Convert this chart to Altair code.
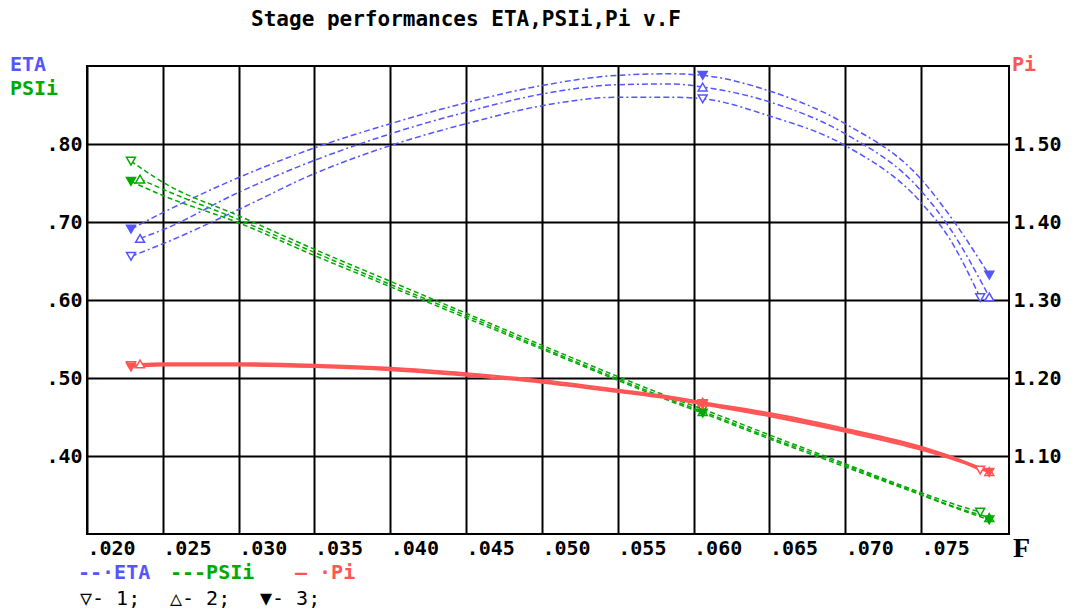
import altair as alt
import pandas as pd

# ---- data ----
F_1 = [0.0229, 0.025, 0.030, 0.035, 0.040, 0.045, 0.050, 0.055, 0.0585, 0.0606, 0.065, 0.070, 0.075, 0.0769, 0.0789]
F_2 = [0.0235, 0.025, 0.030, 0.035, 0.040, 0.045, 0.050, 0.055, 0.0585, 0.0606, 0.065, 0.070, 0.075, 0.0769, 0.0795]
F_3 = [0.0229, 0.025, 0.030, 0.035, 0.040, 0.045, 0.050, 0.055, 0.0585, 0.0606, 0.065, 0.070, 0.075, 0.0769, 0.0795]

ETA_1 = [0.656, 0.672, 0.716, 0.762, 0.798, 0.826, 0.849, 0.860, 0.860, 0.858, 0.836, 0.798, 0.725, 0.678, 0.603]
ETA_2 = [0.679, 0.690, 0.738, 0.779, 0.813, 0.841, 0.864, 0.876, 0.877, 0.873, 0.854, 0.813, 0.740, 0.692, 0.604]
ETA_3 = [0.691, 0.712, 0.757, 0.795, 0.826, 0.853, 0.875, 0.888, 0.890, 0.888, 0.868, 0.826, 0.755, 0.708, 0.632]

PSI_1 = [0.778, 0.751, 0.708, 0.665, 0.624, 0.583, 0.542, 0.502, 0.475, 0.460, 0.427, 0.390, 0.353, 0.340, 0.328]
PSI_2 = [0.755, 0.742, 0.703, 0.661, 0.620, 0.580, 0.539, 0.499, 0.472, 0.457, 0.424, 0.388, 0.351, 0.337, 0.321]
PSI_3 = [0.752, 0.734, 0.699, 0.657, 0.617, 0.577, 0.537, 0.497, 0.470, 0.455, 0.422, 0.386, 0.350, 0.336, 0.318]

PI_1 = [1.216, 1.217, 1.217, 1.215, 1.211, 1.204, 1.195, 1.183, 1.174, 1.167, 1.153, 1.133, 1.110, 1.099, 1.082]
PI_2 = [1.218, 1.219, 1.219, 1.217, 1.213, 1.206, 1.197, 1.185, 1.176, 1.169, 1.155, 1.135, 1.112, 1.100, 1.080]
PI_3 = [1.214, 1.216, 1.216, 1.214, 1.210, 1.203, 1.194, 1.182, 1.173, 1.166, 1.151, 1.131, 1.108, 1.097, 1.079]

MARKER_IDX = [0, 9, 14]
SERIES = ["1", "2", "3"]
X_TICKS = [0.020, 0.025, 0.030, 0.035, 0.040, 0.045, 0.050, 0.055, 0.060, 0.065, 0.070, 0.075]
Y_LEFT_TICKS = [0.40, 0.50, 0.60, 0.70, 0.80]
Y_RIGHT_TICKS = [1.10, 1.20, 1.30, 1.40, 1.50]

BLUE, GREEN, RED = "#5555FF", "#00AA00", "#FF5555"
MONO = "DejaVu Sans Mono"

F_ALL = {"1": F_1, "2": F_2, "3": F_3}
VARS = {
    "ETA": {"1": ETA_1, "2": ETA_2, "3": ETA_3},
    "PSIi": {"1": PSI_1, "2": PSI_2, "3": PSI_3},
    "Pi": {"1": PI_1, "2": PI_2, "3": PI_3},
}
COLORS = {"ETA": BLUE, "PSIi": GREEN, "Pi": RED}
SHAPES = {"1": "triangle-down", "2": "triangle-up", "3": "triangle-down"}

rows = []
for var, d in VARS.items():
    for s in SERIES:
        for i, (f, v) in enumerate(zip(F_ALL[s], d[s])):
            rows.append({
                "F": f, "v": v, "var": var, "series": s, "key": var + s,
                "marker": i in MARKER_IDX, "col": COLORS[var],
                "fill": COLORS[var] if s == "3" else "white",
                "shape": SHAPES[s],
            })
df = pd.DataFrame(rows)

xscale = alt.Scale(domain=[0.020, 0.0808], nice=False, zero=False)
yl = alt.Scale(domain=[0.30, 0.90], nice=False, zero=False)
yr = alt.Scale(domain=[1.00, 1.60], nice=False, zero=False)

x_axis = alt.Axis(values=X_TICKS, labelExpr="substring(format(datum.value, '.3f'), 1)",
                  labelAlign="left", labelBaseline="top", labelPadding=4, grid=True,
                  gridColor="black", gridWidth=2, gridOpacity=1, ticks=False, domain=False,
                  labelFont=MONO, labelFontWeight="bold", labelFontSize=20, labelColor="black",
                  labelFlush=False, labelOverlap=False, title=None)
yl_axis = alt.Axis(values=Y_LEFT_TICKS, labelExpr="substring(format(datum.value, '.2f'), 1)",
                   grid=True, gridColor="black", gridWidth=2, gridOpacity=1, ticks=False,
                   domain=False, labelFont=MONO, labelFontWeight="bold", labelFontSize=20,
                   labelColor="black", labelPadding=5, labelFlush=False, title=None)
yr_axis = alt.Axis(values=Y_RIGHT_TICKS, format=".2f", orient="right", grid=False,
                   ticks=False, domain=False, labelFont=MONO, labelFontWeight="bold",
                   labelFontSize=20, labelColor="black", labelPadding=4, labelFlush=False,
                   title=None)

X = alt.X("F:Q", scale=xscale, axis=x_axis)
YL = alt.Y("v:Q", scale=yl, axis=yl_axis)
YR = alt.Y("v:Q", scale=yr, axis=yr_axis)

eta_df = df[df["var"] == "ETA"]
psi_df = df[df["var"] == "PSIi"]
pi_df = df[df["var"] == "Pi"]
left_df = df[df["var"] != "Pi"]

eta_lines = alt.Chart(eta_df).mark_line(strokeWidth=1.5, strokeDash=[6, 3, 6, 3, 2, 3],
                                        color=BLUE, interpolate="monotone").encode(
    x=X, y=YL, detail="key:N", order="F:Q")
psi_lines = alt.Chart(psi_df).mark_line(strokeWidth=1.5, strokeDash=[5, 3], color=GREEN,
                                        interpolate="monotone").encode(
    x=X, y=YL, detail="key:N", order="F:Q")
left_pts = alt.Chart(left_df).transform_filter("datum.marker").mark_point(
    size=80, strokeWidth=1.5, opacity=1).encode(
    x=X, y=YL,
    stroke=alt.Stroke("col:N", scale=None),
    fill=alt.Fill("fill:N", scale=None),
    shape=alt.Shape("shape:N", scale=None))
left = alt.layer(eta_lines, psi_lines, left_pts)

pi_lines = alt.Chart(pi_df).mark_line(strokeWidth=2, color=RED, interpolate="monotone").encode(
    x=X, y=YR, detail="key:N", order="F:Q")
pi_pts = alt.Chart(pi_df).transform_filter("datum.marker").mark_point(
    size=80, strokeWidth=1.5, opacity=1).encode(
    x=X, y=YR,
    stroke=alt.Stroke("col:N", scale=None),
    fill=alt.Fill("fill:N", scale=None),
    shape=alt.Shape("shape:N", scale=None))
right = alt.layer(pi_lines, pi_pts)

# ---- annotation texts (positions relative to plot area) ----
def label(text, x, y, color="black", size=20, weight="bold", font=MONO, align="left"):
    return alt.Chart(pd.DataFrame({"t": [text]})).mark_text(
        align=align, baseline="middle", font=font, fontSize=size, fontWeight=weight,
        color=color).encode(text="t:N", x=alt.value(x), y=alt.value(y))

texts = [
    label("Stage performances ETA,PSIi,Pi v.F", 379, -46, size=21, align="center"),
    label("ETA", -77, -1, color=BLUE),
    label("PSIi", -77, 23, color=GREEN),
    label("Pi", 925, -1, color=RED),
    label("F", 926, 483, size=28, font="Liberation Serif"),
    label("--·ETA", -9, 507, color=BLUE),
    label("---PSIi", 83, 507, color=GREEN),
    label("— ·Pi", 208, 507, color=RED),
    label("▽- 1;", -7, 533, weight="normal"),
    label("△- 2;", 83, 533, weight="normal"),
    label("▼- 3;", 173, 533, weight="normal"),
]

chart = alt.layer(left, right, *texts).resolve_scale(y="independent").properties(
    width=922, height=468,
    padding={"left": 79, "top": 58, "right": 58, "bottom": 77},
    autosize=alt.AutoSizeParams(type="none"),
    background="white",
).configure_view(stroke="black", strokeWidth=2)

chart.save("out.html", embed_options={"renderer": "svg", "actions": False})
